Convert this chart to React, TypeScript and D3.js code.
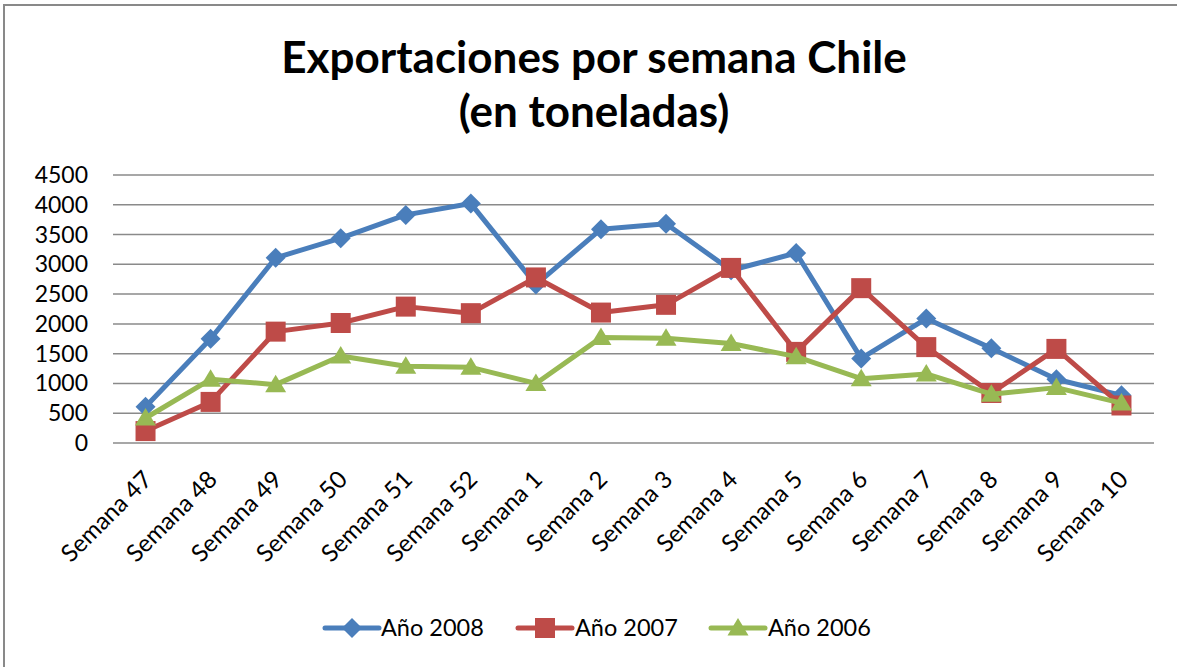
import React from "react";
import * as d3 from "d3";

const categories = ["Semana 47","Semana 48","Semana 49","Semana 50","Semana 51","Semana 52","Semana 1","Semana 2","Semana 3","Semana 4","Semana 5","Semana 6","Semana 7","Semana 8","Semana 9","Semana 10"];
const anio2008 = [610, 1750, 3110, 3440, 3830, 4020, 2660, 3590, 3680, 2900, 3190, 1420, 2090, 1590, 1070, 800];
const anio2007 = [200, 690, 1870, 2015, 2290, 2180, 2780, 2190, 2320, 2940, 1530, 2600, 1610, 840, 1580, 630];
const anio2006 = [420, 1070, 980, 1460, 1290, 1270, 1000, 1770, 1760, 1670, 1450, 1080, 1160, 820, 930, 670];
const yTicks = [0, 500, 1000, 1500, 2000, 2500, 3000, 3500, 4000, 4500];
const titleLines = ["Exportaciones por semana Chile", "(en toneladas)"];

const series = [
  { name: "Año 2008", values: anio2008, color: "#4A7EBB", marker: "diamond" },
  { name: "Año 2007", values: anio2007, color: "#BE4B48", marker: "square" },
  { name: "Año 2006", values: anio2006, color: "#98B954", marker: "triangle" },
];

const W = 1177, H = 667;
const FONT = "Lato, 'Open Sans', sans-serif";

function Marker({ type, x, y, color }: { type: string; x: number; y: number; color: string }) {
  if (type === "diamond") {
    const s = 10;
    return <path d={`M${x},${y - s}L${x + s},${y}L${x},${y + s}L${x - s},${y}Z`} fill={color} />;
  }
  if (type === "square") {
    const s = 10;
    return <rect x={x - s} y={y - s} width={2 * s} height={2 * s} fill={color} />;
  }
  const s = 10;
  return <path d={`M${x},${y - s}L${x + s * 1.05},${y + s * 0.75}L${x - s * 1.05},${y + s * 0.75}Z`} fill={color} />;
}

export default function App() {
  const x = d3.scaleBand<string>().domain(categories).range([113, 1154]);
  const y = d3.scaleLinear().domain([0, 4500]).range([443, 175]);
  const cx = (c: string) => (x(c) as number) + x.bandwidth() / 2;
  const line = d3.line<number>().x((_, i) => cx(categories[i])).y((d) => y(d));

  const legendItems = [
    { lx: 325, tx: 381 },
    { lx: 518, tx: 575 },
    { lx: 711, tx: 768 },
  ];

  return (
    <svg width={W} height={H} style={{ position: "absolute", left: 0, top: 0, background: "#fff" }} fontFamily={FONT}>
      <rect x={0} y={0} width={W} height={H} fill="#fff" />
      <rect x={4} y={5} width={W + 20} height={H + 20} fill="none" stroke="#898989" strokeWidth={2} />
      {titleLines.map((t, i) => (
        <text key={t} x={594} y={73 + i * 54} textAnchor="middle" fontSize={44} fontWeight={700} fill="#000">{t}</text>
      ))}
      {yTicks.map((t) => (
        <g key={t}>
          <line x1={113} x2={1154} y1={y(t)} y2={y(t)} stroke="#8a8a8a" strokeWidth={1.5} />
          <text x={88} y={y(t) + 8} textAnchor="end" fontSize={23} fill="#000">{t}</text>
        </g>
      ))}
      {categories.map((c) => (
        <text key={c} transform={`translate(${cx(c) + 8},${481}) rotate(-45)`} textAnchor="end" fontSize={24} fill="#000">{c}</text>
      ))}
      {series.map((s) => (
        <g key={s.name}>
          <path d={line(s.values) || ""} fill="none" stroke={s.color} strokeWidth={5} strokeLinejoin="round" />
          {s.values.map((v, i) => (
            <Marker key={i} type={s.marker} x={cx(categories[i])} y={y(v)} color={s.color} />
          ))}
        </g>
      ))}
      {series.map((s, i) => {
        const li = legendItems[i];
        return (
          <g key={s.name}>
            <line x1={li.lx} x2={li.lx + 54} y1={628} y2={628} stroke={s.color} strokeWidth={5} strokeLinecap="round" />
            <Marker type={s.marker} x={li.lx + 27} y={628} color={s.color} />
            <text x={li.tx} y={636} fontSize={23.5} fill="#000">{s.name}</text>
          </g>
        );
      })}
    </svg>
  );
}
